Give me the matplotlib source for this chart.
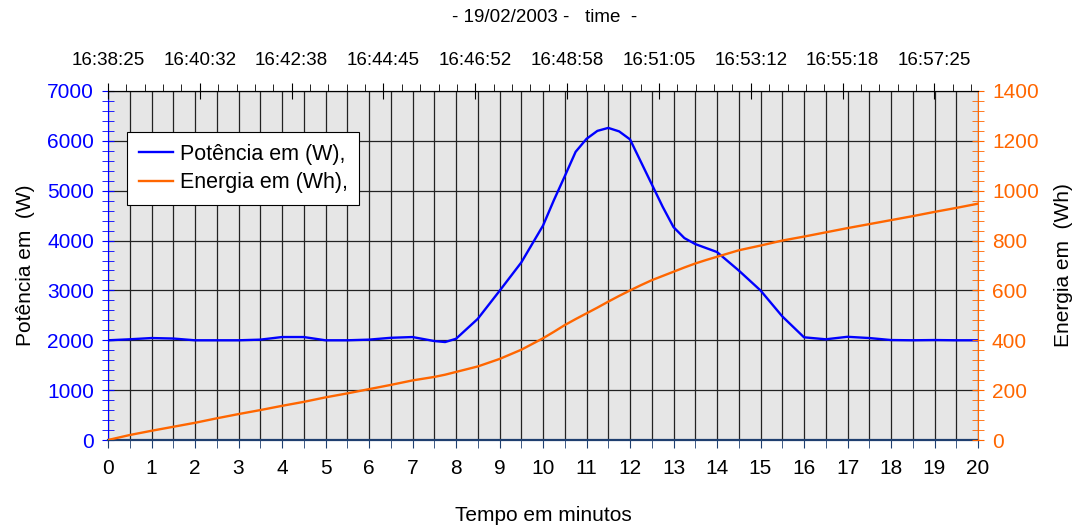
import numpy as np
import matplotlib
matplotlib.use("Agg")
import matplotlib.pyplot as plt
from matplotlib.ticker import MultipleLocator, FixedLocator

plt.rcParams['font.family'] = ['Liberation Sans', 'DejaVu Sans']

# ---- data ----
minutes = [0, 0.5, 1, 1.5, 2, 2.5, 3, 3.5, 4, 4.5, 5, 5.5, 6, 6.5, 7, 7.5, 7.75,
           8, 8.5, 9, 9.5, 10, 10.25, 10.5, 10.75, 11, 11.25, 11.5, 11.75, 12,
           12.25, 12.5, 12.75, 13, 13.25, 13.5, 13.75,
           14, 14.5, 15, 15.5, 16, 16.5, 17, 17.5, 18, 18.5, 19, 19.5, 20]
power_w = [2000, 2020, 2045, 2035, 2000, 2000, 2000, 2013, 2065, 2065, 2000, 2000,
           2013, 2050, 2065, 1985, 1965, 2030, 2430, 2990, 3560, 4300, 4810, 5290,
           5780, 6040, 6200, 6260, 6190, 6030, 5580, 5130, 4680, 4270, 4050, 3930,
           3850, 3770, 3400, 3000, 2480, 2060,
           2020, 2070, 2045, 2005, 2000, 2005, 2000, 2000]
energy_wh = [0, 20, 37, 53, 69, 87, 104, 120, 137, 153, 171, 187, 204, 221, 239,
             253, 262, 273, 295, 325, 362, 408, 434, 461, 485, 508, 531, 555, 578,
             600, 621, 641, 658, 675, 692, 708, 722, 735, 761, 780, 800, 816, 833,
             850, 866, 882, 898, 915, 931, 948]

top_labels = ["16:38:25", "16:40:32", "16:42:38", "16:44:45", "16:46:52",
              "16:48:58", "16:51:05", "16:53:12", "16:55:18", "16:57:25"]
top_step_min = 2.111  # minutes between top time labels

title_text = "- 19/02/2003 -   time  -"
legend_labels = ["Potência em (W),", "Energia em (Wh),"]

BLUE = "#0000ff"
ORANGE = "#ff6600"
NAVY = "#1f3f6f"

fig = plt.figure(figsize=(10.75, 5.31), dpi=100)
ax = fig.add_axes([108/1075, 1-440/531, 870/1075, 349/531])
ax.set_facecolor("#e6e6e6")

ax.set_xlim(0, 20)
ax.set_ylim(0, 7000)
ax.xaxis.set_major_locator(MultipleLocator(1))
ax.xaxis.set_minor_locator(MultipleLocator(0.5))
ax.yaxis.set_major_locator(MultipleLocator(1000))
ax.yaxis.set_minor_locator(MultipleLocator(200))
ax.grid(True, which='major', axis='both', color='#222222', lw=0.9)
ax.grid(True, which='minor', axis='x', color='#222222', lw=0.9)
ax.set_axisbelow(True)

lp, = ax.plot(minutes, power_w, color=BLUE, lw=1.7, zorder=3)

ax.tick_params(axis='x', which='both', direction='out', length=6, color=NAVY,
               labelsize=15, pad=8)
ax.tick_params(axis='y', which='both', direction='inout', length=8, color=BLUE,
               labelcolor=BLUE, labelsize=15, pad=6)
ax.spines['left'].set_color(BLUE)
ax.spines['bottom'].set_color(NAVY)
ax.spines['bottom'].set_linewidth(1.6)
ax.spines['top'].set_color('#222222')
ax.spines['right'].set_visible(False)
ax.set_xlabel("Tempo em minutos", fontsize=15, labelpad=20)
ax.set_ylabel("Potência em  (W)", fontsize=15, labelpad=9)

ax2 = ax.twinx()
ax2.set_ylim(0, 1400)
ax2.yaxis.set_major_locator(MultipleLocator(200))
ax2.yaxis.set_minor_locator(MultipleLocator(40))
le, = ax2.plot(minutes, energy_wh, color=ORANGE, lw=1.7, zorder=3)
ax2.tick_params(axis='y', which='both', direction='inout', length=8, color=ORANGE,
                labelcolor=ORANGE, labelsize=15, pad=6)
ax2.spines['right'].set_color(ORANGE)
ax2.spines['left'].set_visible(False)
ax2.spines['top'].set_visible(False)
ax2.spines['bottom'].set_visible(False)
ax2.set_ylabel("Energia em  (Wh)", fontsize=15, labelpad=11, rotation=90)

ax3 = ax.twiny()
ax3.set_xlim(0, 20)
major_pos = [i*top_step_min for i in range(len(top_labels))]
ax3.xaxis.set_major_locator(FixedLocator(major_pos))
ax3.set_xticklabels(top_labels)
ax3.xaxis.set_minor_locator(FixedLocator([i*top_step_min/5 for i in range(0, 48)]))
ax3.tick_params(axis='x', which='major', direction='inout', length=12, labelsize=13.5, pad=10)
ax3.tick_params(axis='x', which='minor', direction='out', length=5)
for s in ['left', 'right', 'bottom']:
    ax3.spines[s].set_visible(False)

leg = ax3.legend([lp, le], legend_labels, loc='upper left',
                 bbox_to_anchor=(127/1075, 1-132/531), bbox_transform=fig.transFigure,
                 borderaxespad=0, fontsize=15.5, frameon=True,
                 fancybox=False, edgecolor='black', framealpha=1,
                 handlelength=1.6, handletextpad=0.3, borderpad=0.55,
                 labelspacing=0.35)
leg.get_frame().set_linewidth(0.8)

fig.text(545/1075, 1-18/531, title_text, ha='center', va='center', fontsize=13.5)

fig.savefig("out.png", dpi=100)
